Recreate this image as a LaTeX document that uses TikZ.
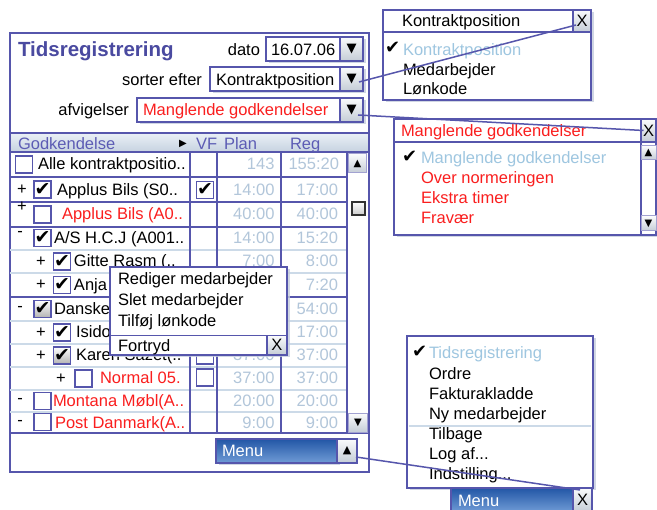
\documentclass[tikz,border=0pt]{standalone}
\usepackage{fontspec}
\setmainfont{Liberation Sans}
\newfontfamily\symfont{DejaVu Sans}
\usetikzlibrary{shadows,calc}

\definecolor{frame}{RGB}{86,86,172}
\definecolor{titleblue}{RGB}{74,74,160}
\definecolor{hdrtext}{RGB}{92,92,180}
\definecolor{dimnum}{RGB}{178,198,218}
\definecolor{selitem}{RGB}{158,198,224}
\definecolor{alert}{RGB}{250,30,30}
\definecolor{rowline}{RGB}{204,218,232}
\definecolor{btnlight}{RGB}{250,251,252}
\definecolor{btndark}{RGB}{196,204,214}
\definecolor{hdrtop}{RGB}{234,240,246}
\definecolor{hdrbot}{RGB}{198,210,224}
\definecolor{menutop}{RGB}{34,86,166}
\definecolor{menubot}{RGB}{112,156,214}
\definecolor{shade}{RGB}{196,204,220}

\tikzset{
  every node/.style={inner sep=0pt, outer sep=0pt},
  lbl/.style={font=\fontsize{16.5}{19}\selectfont, anchor=base west},
  lble/.style={lbl, anchor=base east},
  num/.style={lbl, anchor=base east, text=dimnum},
  sel/.style={lbl, text=selitem},
  warn/.style={lbl, text=alert},
  sign/.style={font=\fontsize{16.5}{19}\selectfont, anchor=center},
  glyph/.style={font=\symfont\fontsize{#1}{#1}\selectfont},
  frm/.style={draw=frame, line width=1.6pt, anchor=north west},
  shadowed/.style={drop shadow={shadow xshift=2.5pt, shadow yshift=-2.5pt, fill=shade, opacity=0.8}},
  field/.style={frm, fill=white, shadowed},
  popup/.style={frm, fill=white, shadowed},
  dropbtn/.style={frm, top color=btnlight, bottom color=btndark, glyph=13},
  scrollbtn/.style={frm, line width=1pt, draw=frame!55, top color=btnlight, bottom color=btndark, glyph=10},
  closebtn/.style={frm, top color=btnlight, bottom color=btndark, font=\fontsize{16.5}{19}\selectfont},
  menubar/.style={frm, top color=menutop, bottom color=menubot, shadowed},
  cbox/.style={draw=frame, line width=1.5pt, fill=white, minimum width=17pt, minimum height=17pt, glyph=19},
  cboxg/.style={cbox, top color=white, bottom color=black!30},
  colrule/.style={draw=frame, line width=1.5pt},
  rowrule/.style={draw=rowline, line width=1.2pt},
  link/.style={draw=frame, line width=1.5pt},
  chk/.style={glyph=18, anchor=base west},
}

\begin{document}
\begin{tikzpicture}[x=1pt,y=-1pt]
\useasboundingbox (0,0) rectangle (657,510);

% ---------- main window ----------
\node[frm, fill=white, minimum width=359pt, minimum height=439pt] (win) at (10,33) {};

\node[lbl, font=\fontsize{20.5}{24}\selectfont\bfseries, text=titleblue] (title) at (18,57) {Tidsregistrering};

\node[lble] (datolbl) at (260,56) {dato};
\node[field, minimum width=97pt, minimum height=24pt] (datobox) at (266,37) {};
\node[lbl] (datoval) at (271,56) {16.07.06};
\node[dropbtn, minimum width=23pt, minimum height=24pt] (datobtn) at (340,37) {▼};

\node[lble] (sortlbl) at (202,86) {sorter efter};
\node[field, minimum width=153pt, minimum height=24pt] (sortbox) at (210,67) {};
\node[lbl] (sortval) at (216,86) {Kontraktposition};
\node[dropbtn, minimum width=23pt, minimum height=24pt] (sortbtn) at (340,67) {▼};

\node[lble] (afvlbl) at (129,116) {afvigelser};
\node[field, minimum width=226pt, minimum height=24pt] (afvbox) at (137,98) {};
\node[warn] (afvval) at (143,116) {Manglende godkendelser};
\node[dropbtn, minimum width=23pt, minimum height=24pt] (afvbtn) at (340,98) {▼};

% ---------- table header ----------
\node[frm, line width=1.4pt, top color=hdrtop, bottom color=hdrbot, minimum width=359pt, minimum height=19pt] (hdr) at (10,133) {};
\node[lbl, text=hdrtext] (hgod) at (18,150) {Godkendelse};
\node[glyph=10] (hsort) at (183,144) {▶};
\node[lbl, text=hdrtext] (hvf) at (196,150) {VF};
\node[lbl, text=hdrtext] (hplan) at (224,150) {Plan};
\node[lbl, text=hdrtext] (hreg) at (290,150) {Reg};

% ---------- table grid ----------
\foreach \y in {250,273,321,344,367,390,412} \draw[rowrule] (10,\y) -- (347,\y);
\foreach \y in {177,202,227,297} \draw[colrule] (10,\y) -- (347,\y);
\draw[colrule] (10,433) -- (369,433);
\foreach \x in {190,217,281,347} \draw[colrule] (\x,152) -- (\x,433);

% row 1
\node[cbox] (cb1) at (24,164.5) {};
\node[lbl] (t1) at (38,170) {Alle kontraktpositio..};
\node[num] (p1) at (274.5,170) {143};
\node[num] (g1) at (339,170) {155:20};
% row 2
\node[sign] (s2) at (22,189.5) {+};
\node[cbox] (cb2) at (42.5,189.5) {✔};
\node[lbl] (t2) at (57,195.5) {Applus Bils (S0..};
\node[cbox] (vf2) at (205,190) {✔};
\node[num] (p2) at (274.5,195.5) {14:00};
\node[num] (g2) at (338,195.5) {17:00};
% row 3
\node[sign] (s3) at (22,207) {+};
\node[cbox] (cb3) at (42.5,214.5) {};
\node[warn] (t3) at (62,220) {Applus Bils (A0..};
\node[num] (p3) at (274.5,220) {40:00};
\node[num] (g3) at (338,220) {40:00};
% row 4
\node[sign] (s4) at (20,234) {-};
\node[cbox] (cb4) at (42.5,238) {✔};
\node[lbl] (t4) at (54,244) {A/S H.C.J (A001..};
\node[num] (p4) at (274.5,244) {14:00};
\node[num] (g4) at (338,244) {15:20};
% row 5
\node[sign] (s5) at (41,261.5) {+};
\node[cbox] (cb5) at (62,261.5) {✔};
\node[lbl] (t5) at (74,266.5) {Gitte Rasm (..};
\node[num] (p5) at (274.5,266.5) {7:00};
\node[num] (g5) at (338,266.5) {8:00};
% row 6
\node[sign] (s6) at (41,285) {+};
\node[cbox] (cb6) at (62,285) {✔};
\node[lbl] (t6) at (74,290.5) {Anja};
\node[num] (g6) at (338,290.5) {7:20};
% row 7
\node[sign] (s7) at (20,309) {-};
\node[cboxg] (cb7) at (42.5,309) {✔};
\node[lbl] (t7) at (54,314.5) {Danske};
\node[num] (g7) at (338,314.5) {54:00};
% row 8
\node[sign] (s8) at (41,332.5) {+};
\node[cbox] (cb8) at (62,332.5) {✔};
\node[lbl] (t8) at (76,338) {Isido};
\node[num] (g8) at (338,338) {17:00};
% row 9
\node[sign] (s9) at (41,355.5) {+};
\node[cboxg] (cb9) at (62,355.5) {✔};
\node[lbl] (t9) at (76,361) {Karen Sazet(..};
\node[cbox] (vf9) at (205,355.5) {};
\node[num] (p9) at (274.5,361) {37:00};
\node[num] (g9) at (338,361) {37:00};
% row 10
\node[sign] (s10) at (61,378.5) {+};
\node[cbox] (cb10) at (83.5,378.5) {};
\node[warn] (t10) at (100,384) {Normal 05.};
\node[cbox] (vf10) at (205,377.5) {};
\node[num] (p10) at (274.5,384) {37:00};
\node[num] (g10) at (338,384) {37:00};
% row 11
\node[sign] (s11) at (20,401) {-};
\node[cbox] (cb11) at (42.5,401) {};
\node[warn] (t11) at (53,406.5) {Montana Møbl(A..};
\node[num] (p11) at (274.5,406.5) {20:00};
\node[num] (g11) at (338,406.5) {20:00};
% row 12
\node[sign] (s12) at (20,422.5) {-};
\node[cbox] (cb12) at (42.5,422) {};
\node[warn] (t12) at (55,428.5) {Post Danmark(A..};
\node[num] (p12) at (274.5,428.5) {9:00};
\node[num] (g12) at (338,428.5) {9:00};

% scrollbar
\node[scrollbtn, minimum width=18pt, minimum height=19pt] (sup) at (348.5,154) {▲};
\node[draw=black!80, line width=1.3pt, top color=white, bottom color=black!20, minimum size=13pt] (thumb) at (358.5,208.5) {};
\node[scrollbtn, minimum width=19pt, minimum height=19pt] (sdown) at (348.5,413.5) {▼};

% menu button
\node[menubar, minimum width=121pt, minimum height=24pt] (menumain) at (216,439) {};
\node[lbl, text=white] (menutxt) at (222,457) {Menu};
\node[dropbtn, glyph=11, minimum width=20pt, minimum height=24pt] (menubtn) at (337,439) {▲};

% ---------- context menu ----------
\node[popup, minimum width=177pt, minimum height=88pt] (ctx) at (110,267) {};
\node[lbl] (ctx1) at (118,285) {Rediger medarbejder};
\node[lbl] (ctx2) at (118,306) {Slet medarbejder};
\node[lbl] (ctx3) at (118,327) {Tilføj lønkode};
\draw[colrule] (110,335.5) -- (287,335.5);
\node[lbl] (ctx4) at (118,352) {Fortryd};
\node[closebtn, minimum width=20pt, minimum height=19.5pt] (ctxx) at (267,335.5) {X};

% ---------- sort list ----------
\node[popup, minimum width=208pt, minimum height=90pt] (kpop) at (383,10) {};
\draw[colrule] (383,32) -- (591,32);
\node[lbl] (ktitle) at (402,27) {Kontraktposition};
\node[closebtn, minimum width=18pt, minimum height=22pt] (kx) at (573,10) {X};
\node[chk] (kchk) at (385,54) {✔};
\node[sel] (k1) at (403,56) {Kontraktposition};
\node[lbl] (k2) at (403,76) {Medarbejder};
\node[lbl] (k3) at (403,95) {Lønkode};

% ---------- deviation list ----------
\node[popup, minimum width=262pt, minimum height=116pt] (apop) at (394,119) {};
\draw[colrule] (394,142) -- (656,142);
\draw[colrule] (641,142) -- (641,235);
\node[warn] (atitle) at (401,137) {Manglende godkendelser};
\node[closebtn, minimum width=15pt, minimum height=23pt] (ax) at (641,119) {X};
\node[scrollbtn, minimum width=15pt, minimum height=14pt] (aup) at (641,146) {▲};
\node[scrollbtn, minimum width=15pt, minimum height=15pt] (adown) at (641,216) {▼};
\node[chk] (achk) at (402,163) {✔};
\node[sel] (a1) at (421,164) {Manglende godkendelser};
\node[warn] (a2) at (421,184) {Over normeringen};
\node[warn] (a3) at (421,204) {Ekstra timer};
\node[warn] (a4) at (421,224) {Fravær};

% ---------- main menu ----------
\node[popup, minimum width=186pt, minimum height=152pt] (mpop) at (407,336) {};
\node[chk] (mchk) at (412,358) {✔};
\node[sel] (m1) at (429,359) {Tidsregistrering};
\node[lbl] (m2) at (429,380) {Ordre};
\node[lbl] (m3) at (429,400) {Fakturakladde};
\node[lbl] (m4) at (429,420) {Ny medarbejder};
\draw[rowrule] (409,426) -- (591,426);
\node[lbl] (m5) at (429,440) {Tilbage};
\node[lbl] (m6) at (429,460) {Log af...};
\node[lbl] (m7) at (429,480) {Indstilling...};
\node[menubar, minimum width=122pt, minimum height=24pt] (mbar) at (451,488) {};
\node[lbl, text=white] (mbartxt) at (458,507) {Menu};
\node[closebtn, minimum width=19pt, minimum height=24pt] (mx) at (573,488) {X};

% ---------- connectors ----------
\draw[link] ($(sortbtn.center)+(7.5,3)$) -- ($(kx.south west)+(3,-7)$);
\draw[link] ($(afvbtn.center)+(6.5,5)$) -- ($(ax.center)+(-5,0)$);
\draw[link] ($(menubtn.center)+(9,6)$) -- ($(mx.north west)+(7,2)$);
\end{tikzpicture}
\end{document}
